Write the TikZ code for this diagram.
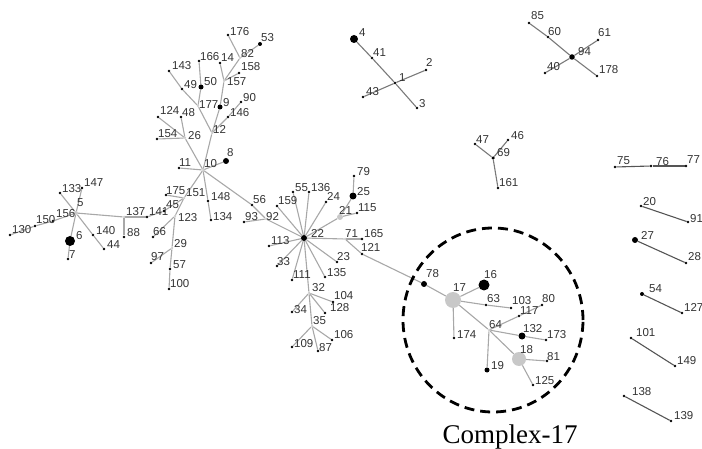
\documentclass[tikz,border=0pt]{standalone}
\usepackage{fontspec}
\usetikzlibrary{shapes.geometric,backgrounds}
\setmainfont{Liberation Sans}
\newfontfamily\capfont{Liberation Serif}
\definecolor{edgeA}{HTML}{A8A8A8}
\definecolor{edgeB}{HTML}{7A7A7A}
\definecolor{edgeC}{HTML}{555555}
\definecolor{labc}{HTML}{333333}
\definecolor{graynode}{HTML}{C8C8C8}
\tikzset{
  ndot/.style={circle,fill=black,inner sep=0pt,minimum size=2.6pt},
  nbig/.style={circle,fill=black,inner sep=0pt,minimum size=#1},
  ngray/.style={circle,fill=graynode,inner sep=0pt,minimum size=#1},
  njun/.style={circle,fill=graynode,inner sep=0pt,minimum size=2.5pt},
  lab/.style={anchor=base west,inner sep=0pt,text=labc,font=\fontsize{11.5}{13}\selectfont},
  edge/.style={draw=edgeA,line width=1.1pt},
  edgeb/.style={draw=edgeB,line width=1.1pt},
  edgec/.style={draw=edgeC,line width=1.1pt}
}
\newcommand\Nd[7]{\node[#4] (n#1) at (#2,#3) {}; \node[lab] (l#1) at (#6,#7) {#5};}
\begin{document}
\begin{tikzpicture}[x=1pt,y=-1pt]
\useasboundingbox (0,0) rectangle (702,449);
% ---- coordinates (nodes) ----
% left cluster
\Nd{5}{76}{213}{ngray=4pt}{5}{77}{207}
\Nd{133}{60}{193}{ndot}{133}{62}{193}
\Nd{147}{82}{188}{ndot}{147}{84}{187}
\Nd{156}{53}{221}{ndot}{156}{56}{218}
\Nd{150}{35}{226}{ndot}{150}{36}{224}
\Nd{130}{10}{235}{ndot}{130}{12}{234}
\Nd{6}{70}{241}{nbig=10pt}{6}{76}{240}
\Nd{7}{68}{259}{ndot}{7}{69}{259}
\Nd{140}{93}{235}{ndot}{140}{96}{235}
\Nd{44}{104}{249}{ndot}{44}{107}{249}
\Nd{137}{124}{217}{njun}{137}{126}{216}
\Nd{88}{124}{237}{ndot}{88}{127}{237}
\Nd{141}{147}{217}{ndot}{141}{149}{216}
\Nd{45}{164}{211}{ndot}{45}{166}{209}
\Nd{151}{184}{198}{njun}{151}{186}{197}
\Nd{175}{166}{195}{ndot}{175}{166}{195}
\Nd{123}{175}{216}{njun}{123}{178}{222}
\Nd{66}{153}{237}{ndot}{66}{153}{236}
\Nd{29}{172}{248}{njun}{29}{174}{248}
\Nd{97}{151}{263}{ndot}{97}{151}{261}
\Nd{57}{170}{269}{ndot}{57}{173}{269}
\Nd{100}{169}{289}{ndot}{100}{170}{288}
% 10 cluster
\Nd{10}{203}{170}{njun}{10}{204}{168}
\Nd{8}{226}{161}{nbig=6pt}{8}{227}{157}
\Nd{11}{179}{168}{ndot}{11}{179}{167}
\Nd{148}{208}{201}{ndot}{148}{211}{201}
\Nd{134}{211}{220}{ndot}{134}{213}{221}
\Nd{56}{252}{205}{ndot}{56}{253}{204}
\Nd{92}{266}{219}{njun}{92}{266}{221}
\Nd{93}{244}{222}{ndot}{93}{245}{221}
\Nd{12}{212}{133}{njun}{12}{213}{134}
\Nd{26}{185}{138}{njun}{26}{188}{140}
\Nd{154}{157}{139}{ndot}{154}{158}{138}
\Nd{124}{158}{117}{ndot}{124}{160}{115}
\Nd{48}{181}{117}{ndot}{48}{182}{117}
\Nd{177}{198}{106}{njun}{177}{199}{109}
\Nd{49}{182}{89}{ndot}{49}{184}{89}
\Nd{143}{169}{71}{ndot}{143}{172}{70}
\Nd{50}{201}{87}{nbig=5pt}{50}{204}{86}
\Nd{166}{199}{61}{ndot}{166}{200}{61}
\Nd{9}{220}{107}{nbig=5pt}{9}{223}{107}
\Nd{157}{224}{81}{njun}{157}{227}{86}
\Nd{14}{220}{63}{ndot}{14}{221}{62}
\Nd{158}{239}{73}{ndot}{158}{241}{71}
\Nd{82}{240}{58}{njun}{82}{241}{58}
\Nd{176}{228}{35}{ndot}{176}{230}{36}
\Nd{53}{260}{44}{nbig=4pt}{53}{261}{42}
\Nd{146}{228}{117}{ndot}{146}{230}{117}
\Nd{90}{241}{102}{ndot}{90}{243}{102}
% 22 cluster
\Nd{22}{304}{238}{nbig=6pt}{22}{311}{238}
\Nd{159}{277}{206}{ndot}{159}{278}{205}
\Nd{55}{293}{192}{ndot}{55}{295}{192}
\Nd{136}{309}{192}{ndot}{136}{311}{192}
\Nd{24}{326}{202}{ndot}{24}{327}{201}
\Nd{21}{340}{217}{ngray=6pt}{21}{339}{215}
\Nd{25}{353}{196}{nbig=7pt}{25}{357}{196}
\Nd{79}{354}{176}{ndot}{79}{357}{176}
\Nd{115}{357}{213}{ndot}{115}{358}{212}
\Nd{71}{345}{239}{njun}{71}{345}{238}
\Nd{165}{362}{239}{ndot}{165}{364}{238}
\Nd{121}{362}{254}{ndot}{121}{361}{252}
\Nd{113}{269}{246}{ndot}{113}{271}{245}
\Nd{33}{277}{266}{ndot}{33}{277}{266}
\Nd{111}{292}{280}{ndot}{111}{293}{279}
\Nd{135}{325}{277}{ndot}{135}{327}{277}
\Nd{23}{337}{262}{ndot}{23}{337}{261}
\Nd{32}{309}{293}{njun}{32}{312}{292}
\Nd{104}{333}{302}{ndot}{104}{334}{300}
\Nd{128}{325}{313}{ndot}{128}{330}{312}
\Nd{34}{292}{312}{ndot}{34}{294}{313}
\Nd{35}{312}{326}{njun}{35}{313}{325}
\Nd{106}{332}{340}{ndot}{106}{334}{338}
\Nd{109}{292}{347}{ndot}{109}{294}{347}
\Nd{87}{318}{351}{ndot}{87}{319}{351}
% complex 17
\Nd{78}{424}{284}{nbig=6pt}{78}{426}{278}
\Nd{17}{453}{300}{ngray=16pt}{17}{453}{291}
\Nd{16}{484}{285}{nbig=11pt}{16}{484}{279}
\Nd{63}{486}{305}{ndot}{63}{487}{303}
\Nd{103}{511}{308}{ndot}{103}{512}{305}
\Nd{80}{542}{305}{ndot}{80}{542}{302}
\Nd{117}{519}{316}{ndot}{117}{520}{315}
\Nd{64}{489}{330}{njun}{64}{489}{329}
\Nd{174}{454}{338}{ndot}{174}{457}{338}
\Nd{132}{522}{336}{nbig=7pt}{132}{523}{333}
\Nd{173}{546}{340}{ndot}{173}{547}{338}
\Nd{18}{519}{359}{ngray=14pt}{18}{520}{353}
\Nd{81}{547}{361}{ndot}{81}{547}{360}
\Nd{19}{487}{370}{nbig=5pt}{19}{491}{370}
\Nd{125}{533}{385}{ndot}{125}{535}{384}
% top components
\Nd{4}{354}{39}{nbig=8pt}{4}{359}{37}
\Nd{41}{372}{58}{ndot}{41}{373}{57}
\Nd{1}{395}{83}{ndot}{1}{399}{82}
\Nd{2}{426}{70}{ndot}{2}{426}{67}
\Nd{43}{363}{97}{ndot}{43}{366}{96}
\Nd{3}{417}{108}{ndot}{3}{419}{108}
\Nd{85}{529}{23}{ndot}{85}{531}{20}
\Nd{60}{548}{37}{ndot}{60}{548}{36}
\Nd{94}{572}{57}{nbig=5.5pt}{94}{578}{56}
\Nd{61}{598}{40}{ndot}{61}{598}{37}
\Nd{40}{545}{73}{ndot}{40}{547}{71}
\Nd{178}{597}{76}{ndot}{178}{599}{74}
\Nd{47}{475}{144}{ndot}{47}{476}{144}
\Nd{46}{508}{140}{ndot}{46}{511}{140}
\Nd{69}{493}{158}{nbig=3.5pt}{69}{497}{157}
\Nd{161}{498}{188}{ndot}{161}{499}{187}
% right pairs
\Nd{75}{615}{167}{ndot}{75}{617}{165}
\Nd{76}{651}{166}{ndot}{76}{656}{166}
\Nd{77}{686}{166}{ndot}{77}{687}{164}
\Nd{20}{641}{206}{ndot}{20}{643}{206}
\Nd{91}{688}{222}{ndot}{91}{690}{223}
\Nd{27}{635}{240}{nbig=6pt}{27}{641}{240}
\Nd{28}{686}{263}{ndot}{28}{688}{261}
\Nd{54}{642}{294}{nbig=4pt}{54}{649}{293}
\Nd{127}{682}{313}{ndot}{127}{684}{312}
\Nd{101}{631}{338}{ndot}{101}{636}{337}
\Nd{149}{675}{366}{ndot}{149}{677}{364}
\Nd{138}{624}{396}{ndot}{138}{632}{395}
\Nd{139}{671}{421}{ndot}{139}{674}{419}
% ---- edges ----
\begin{scope}[on background layer]
\foreach \a/\b in {5/133,5/147,5/156,156/150,150/130,5/6,6/7,5/140,140/44,5/137,137/88,137/141,141/45,45/151,151/175,151/10,151/123,123/66,123/29,29/97,29/57,57/100,
 10/11,10/8,10/148,148/134,10/56,56/92,92/93,92/22,10/12,10/26,26/154,26/124,26/48,12/177,177/49,49/143,177/50,50/166,12/9,9/157,157/14,157/158,157/82,82/176,82/53,12/146,146/90,
 22/159,22/55,22/136,22/24,22/21,21/25,25/79,21/115,22/71,71/165,71/121,121/78,22/113,22/33,22/111,22/135,22/23,22/32,32/104,32/128,32/34,32/35,35/106,35/109,35/87,
 78/17,17/16,17/63,63/103,17/174,17/64,64/117,117/80,64/132,132/173,64/19,64/18,18/81,18/125}
  \draw[edge] (n\a) -- (n\b);
\foreach \a/\b in {4/41,41/1,1/3,43/1,1/2,85/60,60/94,94/178,40/94,94/61,47/69,46/69,69/161}
  \draw[edgeb] (n\a) -- (n\b);
\foreach \a/\b in {75/76,76/77,20/91,27/28,54/127,101/149,138/139}
  \draw[edgec] (n\a) -- (n\b);
\end{scope}
% ---- complex marker ----
\node[draw=black,line width=2.8pt,dash pattern=on 10pt off 6pt,ellipse,minimum width=180pt,minimum height=184pt,inner sep=0pt] (cx) at (493,320) {};
\node[anchor=base,inner sep=0pt,font=\capfont\fontsize{27}{30}\selectfont] (cxl) at (510,443) {Complex-17};
\end{tikzpicture}
\end{document}
